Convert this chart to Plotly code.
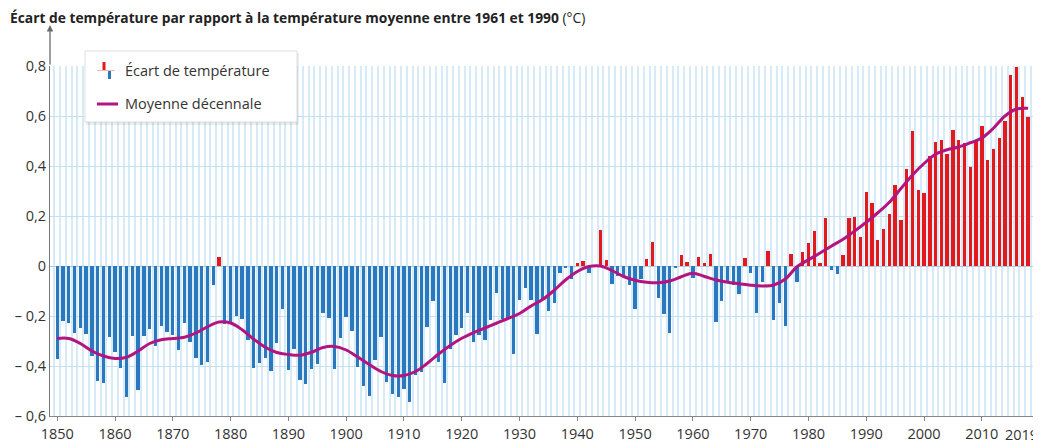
import plotly.graph_objects as go

# ---------------- data ----------------
years = list(range(1850, 2019))
anomaly = [
    -0.373, -0.218, -0.228, -0.269, -0.248, -0.272, -0.358, -0.461, -0.467, -0.284,  # 1850s
    -0.343, -0.407, -0.524, -0.278, -0.494, -0.279, -0.251, -0.321, -0.238, -0.262,  # 1860s
    -0.276, -0.335, -0.227, -0.304, -0.368, -0.395, -0.384, -0.075, 0.035, -0.230,   # 1870s
    -0.227, -0.200, -0.213, -0.296, -0.409, -0.389, -0.367, -0.418, -0.307, -0.171,  # 1880s
    -0.416, -0.330, -0.455, -0.473, -0.410, -0.390, -0.186, -0.206, -0.412, -0.289,  # 1890s
    -0.203, -0.259, -0.402, -0.479, -0.520, -0.377, -0.283, -0.465, -0.511, -0.522,  # 1900s
    -0.490, -0.544, -0.437, -0.424, -0.244, -0.141, -0.383, -0.468, -0.333, -0.275,  # 1910s
    -0.247, -0.187, -0.302, -0.276, -0.294, -0.215, -0.108, -0.210, -0.206, -0.350,  # 1920s
    -0.137, -0.087, -0.137, -0.273, -0.131, -0.178, -0.147, -0.026, -0.006, -0.052,  # 1930s
    0.014, 0.020, -0.027, -0.004, 0.144, 0.025, -0.071, -0.038, -0.039, -0.074,      # 1940s
    -0.173, -0.052, 0.028, 0.097, -0.129, -0.190, -0.267, -0.007, 0.046, 0.017,      # 1950s
    -0.049, 0.038, 0.014, 0.048, -0.223, -0.140, -0.068, -0.074, -0.113, 0.032,      # 1960s
    -0.027, -0.186, -0.065, 0.062, -0.214, -0.149, -0.241, 0.047, -0.062, 0.057,     # 1970s
    0.092, 0.140, 0.011, 0.194, -0.014, -0.030, 0.045, 0.192, 0.198, 0.118,          # 1980s
    0.296, 0.254, 0.105, 0.148, 0.208, 0.325, 0.183, 0.390, 0.539, 0.306,            # 1990s
    0.294, 0.441, 0.496, 0.505, 0.447, 0.545, 0.506, 0.491, 0.395, 0.506,            # 2000s
    0.560, 0.425, 0.470, 0.514, 0.579, 0.763, 0.797, 0.677, 0.595,                   # 2010s
]

decade_years = [1850, 1852, 1854, 1856, 1858, 1860, 1862, 1864, 1866, 1868,
                1870, 1872, 1874, 1876, 1878, 1880, 1882, 1884, 1886, 1888,
                1890, 1892, 1894, 1896, 1898, 1900, 1902, 1904, 1906, 1908,
                1910, 1912, 1914, 1916, 1918, 1920, 1922, 1924, 1926, 1928,
                1930, 1932, 1934, 1936, 1938, 1940, 1942, 1944, 1946, 1948,
                1950, 1952, 1954, 1956, 1958, 1960, 1962, 1964, 1966, 1968,
                1970, 1972, 1974, 1976, 1978, 1980, 1982, 1984, 1986, 1988,
                1990, 1992, 1994, 1996, 1998, 2000, 2002, 2004, 2006, 2008,
                2010, 2012, 2014, 2016, 2018]
decade_mean = [-0.290, -0.290, -0.310, -0.340, -0.360, -0.370, -0.365, -0.340, -0.310, -0.295,
               -0.290, -0.285, -0.268, -0.243, -0.224, -0.228, -0.255, -0.293, -0.325, -0.346,
               -0.354, -0.357, -0.345, -0.326, -0.322, -0.336, -0.364, -0.394, -0.422, -0.438,
               -0.438, -0.422, -0.390, -0.352, -0.318, -0.289, -0.267, -0.248, -0.229, -0.210,
               -0.190, -0.160, -0.134, -0.097, -0.055, -0.022, -0.002, 0.000, -0.018, -0.042,
               -0.057, -0.065, -0.067, -0.060, -0.043, -0.029, -0.042, -0.056, -0.065, -0.071,
               -0.077, -0.080, -0.076, -0.052, -0.003, 0.025, 0.052, 0.080, 0.107, 0.140,
               0.175, 0.213, 0.255, 0.310, 0.364, 0.410, 0.447, 0.465, 0.476, 0.493,
               0.512, 0.551, 0.600, 0.628, 0.631]

x_tick_vals = [1850, 1860, 1870, 1880, 1890, 1900, 1910, 1920, 1930, 1940,
               1950, 1960, 1970, 1980, 1990, 2000, 2010, 2019]
x_tick_text = [str(v) for v in x_tick_vals]
y_tick_vals = [0.8, 0.6, 0.4, 0.2, 0, -0.2, -0.4, -0.6]
y_tick_text = ["0,8", "0,6", "0,4", "0,2", "0", "– 0,2", "– 0,4", "– 0,6"]

title_text = "Écart de température par rapport à la température moyenne entre 1961 et 1990"
title_unit = "(°C)"
legend_bar = "Écart de température"
legend_line = "Moyenne décennale"

# ---------------- style ----------------
RED = "#e3191c"
BLUE = "#2a79bf"
MAGENTA = "#b3147f"
GRID = "#d6eaf7"
FONT = "Open Sans"

# page body has an 8px margin: design in screenshot pixels, figure is offset by OFF
OFF = 8
FIG_W, FIG_H = 1041 - OFF, 444 - OFF
L, R, T, B = 50 - OFF, 1035 - OFF, 66 - OFF, 416 - OFF   # plot area in figure pixels
W, H = R - L, B - T

def px(xs):   # screenshot x -> paper
    return (xs - OFF - L) / W

def py(ys):   # screenshot y -> paper
    return (B - (ys - OFF)) / H

bar_colors = [RED if v >= 0 else BLUE for v in anomaly]

# last tick label sits at the right edge: drawn as a right-anchored text so it is not cut
axis_tick_text = x_tick_text[:-1] + [""]

fig = go.Figure()
fig.add_trace(go.Bar(x=years, y=anomaly, marker=dict(color=bar_colors, line=dict(width=0)),
                     width=0.58, showlegend=False, name=legend_bar))
fig.add_trace(go.Scatter(x=decade_years, y=decade_mean, mode="lines",
                         line=dict(color=MAGENTA, width=3, shape="spline", smoothing=1.0),
                         showlegend=False, name=legend_line))

shapes = []
# legend box shadow + box
shapes.append(dict(type="rect", xref="paper", yref="paper", x0=px(86), x1=px(299), y0=py(125), y1=py(53),
                   fillcolor="rgba(0,0,0,0.07)", line=dict(width=0), layer="above"))
shapes.append(dict(type="rect", xref="paper", yref="paper", x0=px(85), x1=px(297), y0=py(122), y1=py(51),
                   fillcolor="white", line=dict(color="rgba(210,215,220,0.8)", width=1), layer="above"))
# bar legend icon
shapes.append(dict(type="line", xref="paper", yref="paper", x0=px(97), x1=px(115), y0=py(70.5), y1=py(70.5),
                   line=dict(color="#f0b8b8", width=1), layer="above"))
shapes.append(dict(type="rect", xref="paper", yref="paper", x0=px(102.5), x1=px(105.5), y0=py(70), y1=py(62),
                   fillcolor=RED, line=dict(width=0), layer="above"))
shapes.append(dict(type="rect", xref="paper", yref="paper", x0=px(108), x1=px(111), y0=py(79), y1=py(71),
                   fillcolor=BLUE, line=dict(width=0), layer="above"))
# line legend icon
shapes.append(dict(type="line", xref="paper", yref="paper", x0=px(97), x1=px(118), y0=py(104), y1=py(104),
                   line=dict(color=MAGENTA, width=3), layer="above"))

annotations = [
    dict(text=legend_bar, xref="paper", yref="paper", x=px(123), y=py(71), xanchor="left", yanchor="middle",
         showarrow=False, font=dict(family=FONT, size=14.5, color="#333")),
    dict(text=legend_line, xref="paper", yref="paper", x=px(123), y=py(104), xanchor="left", yanchor="middle",
         showarrow=False, font=dict(family=FONT, size=14.5, color="#333")),
    # y-axis arrow
    dict(text="", xref="paper", yref="paper", x=0, y=py(25), ax=0, ay=41, showarrow=True,
         arrowhead=2, arrowsize=1, arrowwidth=1.3, arrowcolor="#6b6b6b"),
    dict(text="<b>" + title_text + "</b> " + title_unit, xref="paper", yref="paper", x=px(8), y=py(18),
         xanchor="left", yanchor="middle", showarrow=False,
         font=dict(family=FONT, size=13.8, color="#222")),
    # last x tick label
    dict(text=x_tick_text[-1], xref="paper", yref="paper", x=px(1040), y=py(434),
         xanchor="right", yanchor="middle", showarrow=False,
         font=dict(family=FONT, size=14.5, color="#333")),
]

fig.update_layout(
    width=FIG_W, height=FIG_H,
    margin=dict(l=L, r=FIG_W - R, t=T, b=FIG_H - B, pad=0, autoexpand=False),
    paper_bgcolor="white", plot_bgcolor="white",
    bargap=0, showlegend=False,
    shapes=shapes, annotations=annotations,
    font=dict(family=FONT, color="#333"),
    xaxis=dict(range=[1848.75, 2019.2], tickmode="array", tickvals=x_tick_vals, ticktext=axis_tick_text,
               automargin=False,
               showgrid=False, zeroline=False, showline=True, linecolor="#888", linewidth=1.2,
               ticks="outside", ticklen=4, tickcolor="#888", ticklabeloverflow="allow",
               tickfont=dict(family=FONT, size=14.5, color="#333"),
               minor=dict(tickmode="linear", tick0=1849.5, dtick=1, showgrid=True,
                          gridcolor=GRID, gridwidth=1.6, ticks="")),
    yaxis=dict(range=[-0.6, 0.8], tickmode="array", tickvals=y_tick_vals, ticktext=y_tick_text,
               automargin=False,
               showgrid=True, gridcolor="#c4dff0", gridwidth=1,
               zeroline=True, zerolinecolor="#b9c9d6", zerolinewidth=1,
               showline=True, linecolor="#777", linewidth=1.2, ticks="",
               tickfont=dict(family=FONT, size=14.5, color="#333")),
)

fig.write_html("out.html")
